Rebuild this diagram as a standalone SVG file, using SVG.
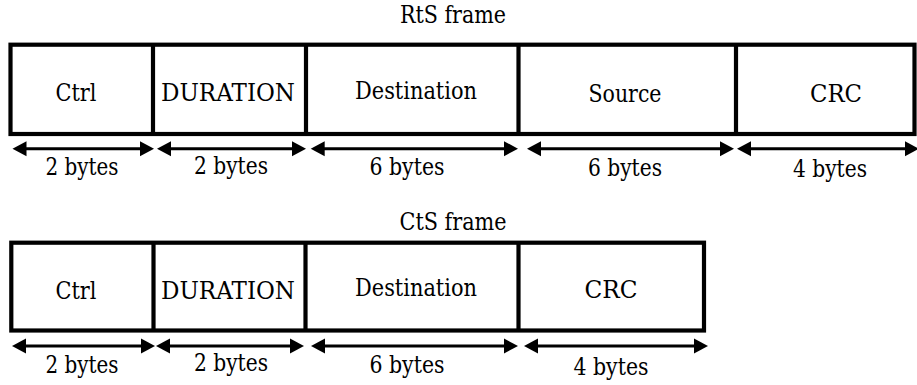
<svg xmlns="http://www.w3.org/2000/svg" width="917" height="385" viewBox="0 0 917 385">
<style>
.t{font-family:'DejaVu Serif','Liberation Serif',serif;font-size:24.5px;fill:#000;text-anchor:middle}
.frame{fill:#fff;stroke:#000;stroke-width:4.2}
.div{stroke:#000;stroke-width:4.2}
.arr{stroke:#000;stroke-width:3;fill:none;marker-start:url(#ah);marker-end:url(#ah)}
</style>
<defs>
<marker id="ah" markerUnits="userSpaceOnUse" markerWidth="15" markerHeight="16" refX="3" refY="8" orient="auto-start-reverse" viewBox="0 0 15 16">
<path d="M0,0.5 L14,8 L0,15.5 z" fill="#000"/>
</marker>
</defs>
<rect width="917" height="385" fill="#fff"/>
<g id="rts-title"><text class="t" x="453" y="23" textLength="106" lengthAdjust="spacingAndGlyphs">RtS frame</text></g>
<g id="rts-frame">
<rect class="frame" x="10.5" y="44.7" width="904" height="89.3"/>
</g>
<g id="rts-ctrl"><line class="div" x1="153" y1="44.7" x2="153" y2="134"/><text class="t" x="76" y="101" textLength="41" lengthAdjust="spacingAndGlyphs">Ctrl</text></g>
<g id="rts-duration"><line class="div" x1="306" y1="44.7" x2="306" y2="134"/><text class="t" x="228" y="101" textLength="134" lengthAdjust="spacingAndGlyphs">DURATION</text></g>
<g id="rts-destination"><line class="div" x1="518.5" y1="44.7" x2="518.5" y2="134"/><text class="t" x="416" y="99" textLength="122" lengthAdjust="spacingAndGlyphs">Destination</text></g>
<g id="rts-source"><line class="div" x1="736" y1="44.7" x2="736" y2="134"/><text class="t" x="625" y="102" textLength="73" lengthAdjust="spacingAndGlyphs">Source</text></g>
<g id="rts-crc"><text class="t" x="836" y="102" textLength="52" lengthAdjust="spacingAndGlyphs">CRC</text></g>
<g id="cts-title"><text class="t" x="453" y="230" textLength="107" lengthAdjust="spacingAndGlyphs">CtS frame</text></g>
<g id="cts-frame">
<rect class="frame" x="11.3" y="242.7" width="692.7" height="87.8"/>
</g>
<g id="cts-ctrl"><line class="div" x1="153.5" y1="242.7" x2="153.5" y2="330.5"/><text class="t" x="76" y="299" textLength="41" lengthAdjust="spacingAndGlyphs">Ctrl</text></g>
<g id="cts-duration"><line class="div" x1="305.5" y1="242.7" x2="305.5" y2="330.5"/><text class="t" x="228" y="299" textLength="134" lengthAdjust="spacingAndGlyphs">DURATION</text></g>
<g id="cts-destination"><line class="div" x1="518.5" y1="242.7" x2="518.5" y2="330.5"/><text class="t" x="416" y="296" textLength="122" lengthAdjust="spacingAndGlyphs">Destination</text></g>
<g id="cts-crc"><text class="t" x="611" y="298" textLength="53" lengthAdjust="spacingAndGlyphs">CRC</text></g>
<g id="connectors">
<line class="arr" x1="23.5" y1="148.7" x2="143" y2="148.7"/>
<line class="arr" x1="168" y1="148.7" x2="295" y2="148.7"/>
<line class="arr" x1="321.7" y1="148.7" x2="507" y2="148.7"/>
<line class="arr" x1="538" y1="148.7" x2="723" y2="148.7"/>
<line class="arr" x1="748" y1="148.7" x2="908" y2="148.7"/>
<line class="arr" x1="23" y1="346" x2="144" y2="346"/>
<line class="arr" x1="167" y1="346" x2="293" y2="346"/>
<line class="arr" x1="322" y1="346" x2="507" y2="346"/>
<line class="arr" x1="535" y1="346" x2="697" y2="346"/>
</g>
<g id="labels" class="t">
<text x="82" y="175" textLength="73" lengthAdjust="spacingAndGlyphs">2 bytes</text>
<text x="231" y="174" textLength="74" lengthAdjust="spacingAndGlyphs">2 bytes</text>
<text x="407" y="175" textLength="75" lengthAdjust="spacingAndGlyphs">6 bytes</text>
<text x="625" y="176" textLength="74" lengthAdjust="spacingAndGlyphs">6 bytes</text>
<text x="830" y="176.5" textLength="74" lengthAdjust="spacingAndGlyphs">4 bytes</text>
<text x="82" y="372.5" textLength="73" lengthAdjust="spacingAndGlyphs">2 bytes</text>
<text x="231" y="370.5" textLength="74" lengthAdjust="spacingAndGlyphs">2 bytes</text>
<text x="407" y="373" textLength="75" lengthAdjust="spacingAndGlyphs">6 bytes</text>
<text x="611" y="375" textLength="75" lengthAdjust="spacingAndGlyphs">4 bytes</text>
</g>
</svg>
